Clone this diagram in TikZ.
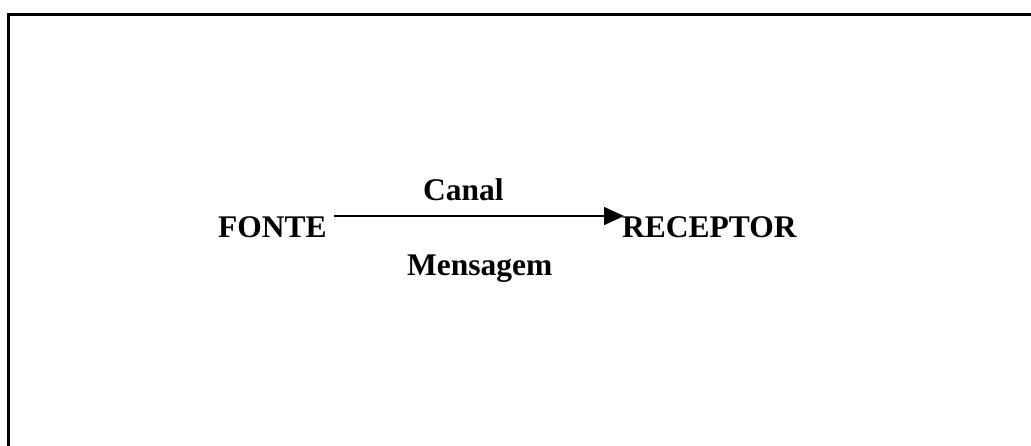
\documentclass[tikz,border=0pt]{standalone}
\usepackage{fontspec}
\setmainfont{Liberation Serif}
\usetikzlibrary{arrows.meta}
\tikzstyle{labelWord}=[inner sep = 0pt, anchor = base west, font = \fontsize{31.5}{36}\selectfont\bfseries]
\tikzstyle{frameLine}=[line width = 2.4pt]

\begin{document}
\begin{tikzpicture}[x = 1pt, y = -1pt]
\tikzstyle{ArrowStyle} = [line width = 1.6pt, -{Triangle[length = 20pt, width = 18pt]}]
\useasboundingbox (0,0) rectangle (1031,445);
\clip (0,0) rectangle (1031,445);
\draw[frameLine] (8.5,14.5) rectangle (1060,480);
\node[labelWord] (fonte) at (218,237) {FONTE};
\node[labelWord] (receptor) at (622,237) {RECEPTOR};
\node[labelWord] (canal) at (423,200) {Canal};
\node[labelWord] (mensagem) at (407,275) {Mensagem};
\draw[ArrowStyle, shorten <= 7pt, shorten >= -2pt] ([yshift = 21pt]fonte.base east) -- ([yshift = 21pt]receptor.base west);
\end{tikzpicture}
\end{document}
